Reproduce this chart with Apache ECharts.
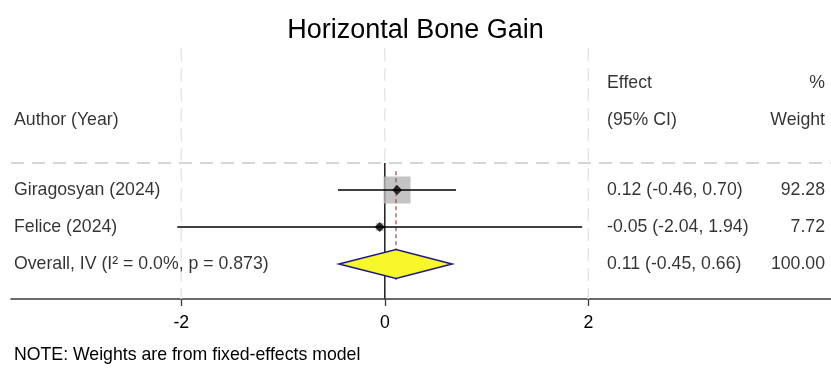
<!DOCTYPE html>
<html>
<head>
<meta charset="utf-8">
<script src="https://cdn.jsdelivr.net/npm/echarts@6/dist/echarts.min.js"></script>
<style>html,body{margin:0;padding:0;background:#fff}#c{width:831px;height:368px}</style>
</head>
<body>
<div id="c"></div>
<script>
// ---- data ----
const studies = ['Giragosyan (2024)', 'Felice (2024)'];
const estimates = [0.12, -0.05];
const lowerCI = [-0.46, -2.04];
const upperCI = [0.70, 1.94];
const weights = [92.28, 7.72];
const overallLabel = 'Overall, IV (I\u00B2 = 0.0%, p = 0.873)';
const overallEst = 0.11;
const overallLo = -0.45;
const overallHi = 0.66;
const overallWeight = 100.00;
const xTicks = [-2, 0, 2];
const titleText = 'Horizontal Bone Gain';
const noteText = 'NOTE: Weights are from fixed-effects model';
const headerAuthor = 'Author (Year)';
const headerEffect = ['Effect', '(95% CI)'];
const headerWeight = ['%', 'Weight'];

// ---- layout ----
const FONT = '"Liberation Sans", Arial, Helvetica, sans-serif';
const FS = 17.7;
const X_MIN = -3.674, X_MAX = 4.385;      // effect scale across plot width
const Y_MIN = -2.838, Y_MAX = 3.946;      // row scale (inverse)
const HDR1 = -1.892, HDR2 = -0.892, SEP = 0.27;
const COL_AUTHOR = 14, COL_EFFECT = 607, COL_WEIGHT = 825; // pixel columns (axis 1)
const rowOf = i => i + 1;
const overallRow = studies.length + 1;

const fmt = v => v.toFixed(2);
const effText = (e, l, h) => fmt(e) + ' (' + fmt(l) + ', ' + fmt(h) + ')';

const textStyle = {color: '#000', fontFamily: FONT, fontSize: FS};
function textSeries(points, align) {
  return {
    type: 'scatter', xAxisIndex: 1, yAxisIndex: 0, symbolSize: 0, silent: true, z: 10,
    data: points.map(p => ({value: [p[0], p[1]], label: {formatter: p[2]}})),
    label: {show: true, position: [0, 0], align: align, verticalAlign: 'middle', ...textStyle}
  };
}

const leftTexts = [[COL_AUTHOR, HDR2, headerAuthor]];
studies.forEach((s, i) => leftTexts.push([COL_AUTHOR, rowOf(i), s]));
leftTexts.push([COL_AUTHOR, overallRow, overallLabel]);

const effTexts = [[COL_EFFECT, HDR1, headerEffect[0]], [COL_EFFECT, HDR2, headerEffect[1]]];
studies.forEach((s, i) => effTexts.push([COL_EFFECT, rowOf(i), effText(estimates[i], lowerCI[i], upperCI[i])]));
effTexts.push([COL_EFFECT, overallRow, effText(overallEst, overallLo, overallHi)]);

const wTexts = [[COL_WEIGHT, HDR1, headerWeight[0]], [COL_WEIGHT, HDR2, headerWeight[1]]];
studies.forEach((s, i) => wTexts.push([COL_WEIGHT, rowOf(i), fmt(weights[i])]));
wTexts.push([COL_WEIGHT, overallRow, fmt(overallWeight)]);

const series = [];
// vertical light dashed gridlines at tick values
xTicks.forEach(v => series.push({
  type: 'line', silent: true, symbol: 'none', z: 1,
  data: [[v, Y_MIN], [v, Y_MAX]],
  lineStyle: {color: '#e6e6e6', width: 1.5, type: [13, 7]}
}));
// separator dashed line
series.push({
  type: 'line', xAxisIndex: 1, silent: true, symbol: 'none', z: 2,
  data: [[11, SEP], [831, SEP]],
  lineStyle: {color: '#c8c8c8', width: 1.5, type: [13, 8]}
});
// no-effect line at 0
series.push({
  type: 'line', silent: true, symbol: 'none', z: 3,
  data: [[0, SEP], [0, Y_MAX]],
  lineStyle: {color: '#000', width: 1.3}
});
// weight boxes
series.push({
  type: 'scatter', silent: true, z: 4, symbol: 'rect',
  data: studies.map((s, i) => [estimates[i], rowOf(i), weights[i]]),
  symbolSize: d => 27 * Math.sqrt(d[2] / weights[0]),
  itemStyle: {color: '#b4b4b4'}
});
// overall dashed line
series.push({
  type: 'line', silent: true, symbol: 'none', z: 5,
  data: [[overallEst, 0.49], [overallEst, 3.43]],
  lineStyle: {color: '#a04848', width: 1.2, type: [4, 3]}
});
// CI lines
studies.forEach((s, i) => series.push({
  type: 'line', silent: true, symbol: 'none', z: 6,
  data: [[lowerCI[i], rowOf(i)], [upperCI[i], rowOf(i)]],
  lineStyle: {color: '#000', width: 1.6}
}));
// point estimates
series.push({
  type: 'scatter', silent: true, z: 7, symbol: 'diamond', symbolSize: 10,
  data: studies.map((s, i) => [estimates[i], rowOf(i)]),
  itemStyle: {color: '#000'}
});
// overall diamond
series.push({
  type: 'custom', silent: true, z: 8,
  data: [[overallEst, overallRow, overallLo, overallHi]],
  renderItem: (params, api) => {
    const e = api.value(0), r = api.value(1), l = api.value(2), h = api.value(3);
    const hh = 0.39;
    const pts = [api.coord([l, r]), api.coord([e, r - hh]), api.coord([h, r]), api.coord([e, r + hh])];
    return {type: 'polygon', shape: {points: pts},
      style: {fill: '#f7f72a', stroke: '#1c1c82', lineWidth: 1.6}};
  }
});
series.push(textSeries(leftTexts, 'left'));
series.push(textSeries(effTexts, 'left'));
series.push(textSeries(wTexts, 'right'));

const chart = echarts.init(document.getElementById('c'), null, {renderer: 'canvas'});
chart.setOption({
  animation: false,
  backgroundColor: '#fff',
  title: [
    {text: titleText, left: 'center', top: 12, textStyle: {...textStyle, fontSize: 27, fontWeight: 'normal'}},
    {text: noteText, left: 9, top: 341, textStyle: {...textStyle, fontWeight: 'normal'}}
  ],
  grid: {left: 11, right: 0, top: 48, bottom: 69, containLabel: false},
  xAxis: [
    {type: 'value', min: X_MIN, max: X_MAX, position: 'bottom',
      axisLine: {show: true, onZero: false, lineStyle: {color: '#3a3a3a', width: 1.5}},
      axisTick: {show: true, length: 7, customValues: xTicks, lineStyle: {color: '#3a3a3a', width: 1.3}},
      axisLabel: {show: true, customValues: xTicks, margin: 15, ...textStyle},
      splitLine: {show: false}},
    {type: 'value', min: 11, max: 831, show: false}
  ],
  yAxis: [{type: 'value', inverse: true, min: Y_MIN, max: Y_MAX, show: false}],
  series: series
});
</script>
</body>
</html>
